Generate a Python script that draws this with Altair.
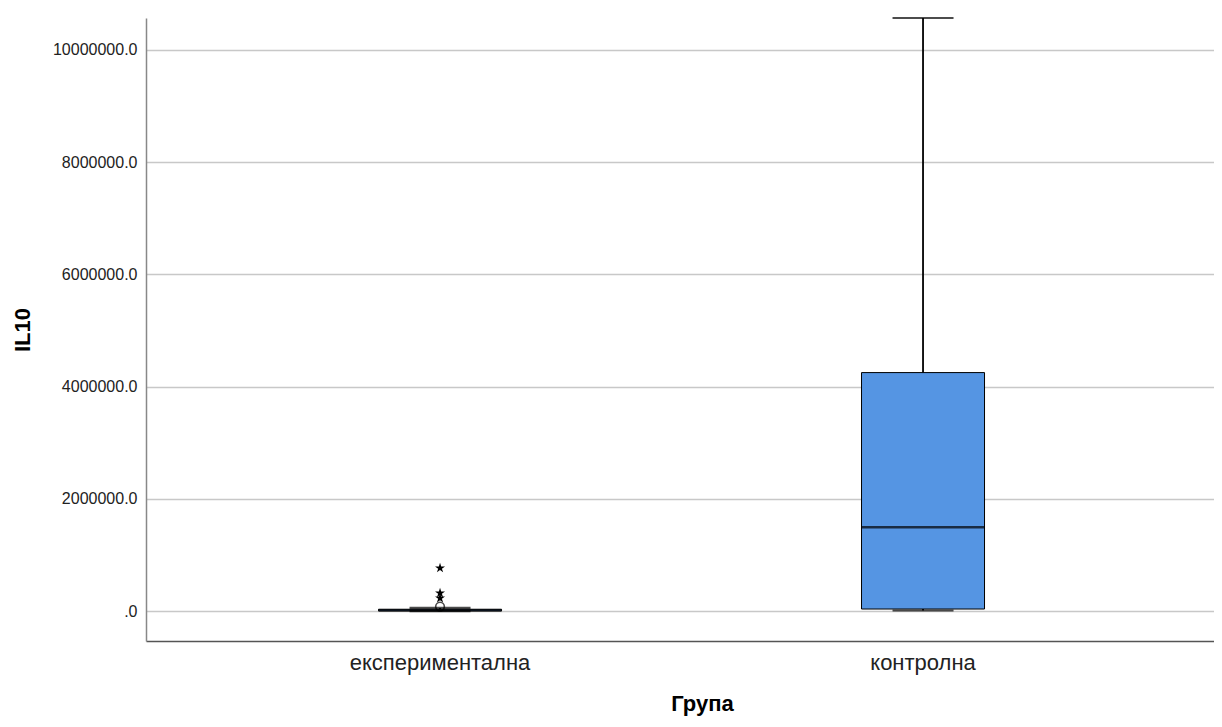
import altair as alt
import pandas as pd

# ---- data ----
groups = ["експериментална", "контролна"]
whisker_low = [0, 10000]
q1 = [2000, 36000]
median = [12000, 1495000]
q3 = [32000, 4250000]
whisker_high = [55000, 10570000]

circle_group = ["експериментална"]
circle_value = [80000]
star_group = ["експериментална", "експериментална", "експериментална"]
star_value = [765000, 320000, 230000]

y_ticks = [0, 2000000, 4000000, 6000000, 8000000, 10000000]

box_df = pd.DataFrame({
    "group": groups, "lo": whisker_low, "q1": q1, "med": median,
    "q3": q3, "hi": whisker_high,
})
circ_df = pd.DataFrame({"group": circle_group, "v": circle_value})
star_df = pd.DataFrame({"group": star_group, "v": star_value})

FONT = "Liberation Sans"
BOX_W = 123
CAP_W = 61

x_enc = alt.X(
    "group:N",
    sort=groups,
    scale=alt.Scale(domain=groups, paddingInner=0, paddingOuter=0.1056, align=0.515),
    axis=alt.Axis(
        title="Група", labelAngle=0, ticks=False, labelPadding=11, labelLimit=0,
        labelFontSize=22, labelFont=FONT, labelColor="#222222",
        titleFontSize=22, titleFont=FONT, titleFontWeight="bold",
        titleColor="#000000", titlePadding=20, titleX=556,
        domainColor="#555555", domainWidth=1.5, grid=False,
    ),
)
y_scale = alt.Scale(domain=[-534000, 10570000], nice=False, zero=False)
y_axis = alt.Axis(
    title="IL10", values=y_ticks, ticks=False, labelPadding=9,
    labelExpr="datum.value == 0 ? '.0' : format(datum.value, 'd') + '.0'",
    labelFontSize=16, labelFont=FONT, labelColor="#222222",
    titleFontSize=22, titleFont=FONT, titleFontWeight="bold",
    titleColor="#000000", titlePadding=18,
    domainColor="#888888", domainWidth=1.5,
    grid=True, gridColor="#c8c8c8", gridWidth=1.5,
)

base = alt.Chart(box_df).encode(x=x_enc)

whisk = base.mark_rule(color="#000000", strokeWidth=1.8).encode(
    y=alt.Y("lo:Q", scale=y_scale, axis=y_axis), y2="hi:Q"
)
box = base.mark_bar(size=BOX_W, color="#5595e3", stroke="#000000", strokeWidth=1).encode(
    y=alt.Y("q1:Q", scale=y_scale), y2="q3:Q"
)
med = base.mark_tick(size=BOX_W, thickness=2.5, color="#000000").encode(
    y=alt.Y("med:Q", scale=y_scale)
)
cap_hi = base.mark_tick(size=CAP_W, thickness=2.2, color="#000000").encode(
    y=alt.Y("hi:Q", scale=y_scale)
)
cap_lo = base.mark_tick(size=CAP_W, thickness=2.2, color="#000000").encode(
    y=alt.Y("lo:Q", scale=y_scale)
)
circ = alt.Chart(circ_df).mark_point(
    shape="circle", filled=False, color="#000000", strokeWidth=1.6, size=75
).encode(x=x_enc, y=alt.Y("v:Q", scale=y_scale))

STAR = "M0,-1L0.22,-0.31L0.95,-0.31L0.36,0.12L0.59,0.81L0,0.38L-0.59,0.81L-0.36,0.12L-0.95,-0.31L-0.22,-0.31Z"
stars = alt.Chart(star_df).mark_point(
    shape=STAR, filled=True, color="#000000", size=110, opacity=1
).encode(x=x_enc, y=alt.Y("v:Q", scale=y_scale))

chart = alt.layer(whisk, box, med, cap_hi, cap_lo, circ, stars).properties(
    width=1068, height=623,
    padding={"left": 138, "top": 10, "right": 0, "bottom": 77},
    autosize="none", background="#ffffff",
).configure_view(strokeWidth=0)

chart.save("out.html", embed_options={"renderer": "svg", "actions": False})
